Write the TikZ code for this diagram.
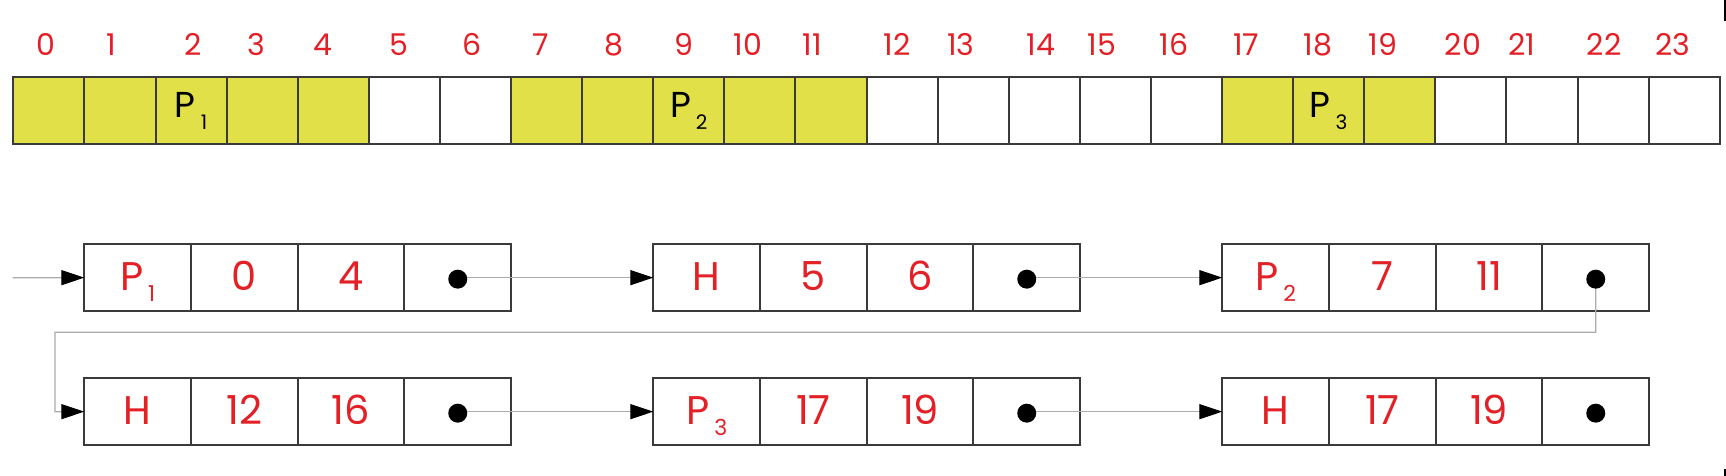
\documentclass[tikz,border=0pt]{standalone}
\usepackage{fontspec}
\setmainfont{Poppins}
\usetikzlibrary{arrows.meta}
\definecolor{cellyellow}{RGB}{226,224,72}
\definecolor{txtred}{RGB}{226,32,38}
\definecolor{bordergray}{RGB}{58,58,58}
\definecolor{linkgray}{RGB}{172,172,172}
\newcommand\psub[3]{P\kern5pt\raisebox{-#3pt}{\fontsize{#2}{#2}\selectfont #1}}
\begin{document}
\begin{tikzpicture}[x=1pt,y=-1pt,
  mem/.style={draw=bordergray, line width=2pt, minimum width=71.1pt, minimum height=66.7pt,
    inner sep=0pt, outer sep=0pt, anchor=north west},
  used/.style={fill=cellyellow},
  idx/.style={text=txtred, font=\fontsize{30}{30}\selectfont, inner sep=0pt},
  ptop/.style={text=black, font=\fontsize{36}{36}\selectfont, inner sep=0pt, text height=20pt, text depth=6.8pt},
  fld/.style={draw=bordergray, line width=2pt, minimum width=106.7pt, minimum height=66.7pt,
    inner sep=0pt, outer sep=0pt, anchor=north west, text=txtred, font=\fontsize{40}{40}\selectfont,
    text height=30pt, text depth=3.6pt},
  ptr/.style={circle, fill=black, minimum size=19pt, inner sep=0pt},
  link/.style={draw=linkgray, line width=1.3pt, -{Triangle[length=23pt,width=15pt,black]}},
]
\fill[white] (0,0) rectangle (1726,476);
\useasboundingbox (0,0) rectangle (1726,476);

% memory row
\foreach \i in {0,1,2,3,4,7,8,9,10,11,17,18,19}
  \node[mem,used] (c\i) at ({13.3+71.1*\i},77.3) {};
\foreach \i in {5,6,12,13,14,15,16,20,21,22,23}
  \node[mem] (c\i) at ({13.3+71.1*\i},77.3) {};

% indices
\foreach \i/\x in {0/45.7,1/111.7,2/193,3/256,4/323,5/399,6/472,7/541,8/614,9/684,10/748,11/812,
                   12/897,13/961,14/1041,15/1102,16/1174,17/1246,18/1318,19/1383,20/1463,21/1522,22/1604,23/1673}
  \node[idx] (n\i) at (\x,44.5) {\i};

% process labels in memory
\node[ptop] (mp1) at (c2.center) {\psub{1}{20}{12}};
\node[ptop] (mp2) at (c9.center) {\psub{2}{20}{12}};
\node[ptop] (mp3) at (c18.center) {\psub{3}{20}{12}};

% list nodes
\foreach \nm/\bx/\by/\a/\b/\c in {A/84.3/244.3/{\psub{1}{22}{11}}/0/4,
                                  B/653.3/244.3/H/5/6,
                                  C/1222.3/244.3/{\psub{2}{22}{11}}/7/11,
                                  D/84.3/378.3/H/12/16,
                                  E/653.3/378.3/{\psub{3}{22}{11}}/17/19,
                                  F/1222.3/378.3/H/17/19} {
  \node[fld] (\nm1) at (\bx,\by) {\a};
  \node[fld] (\nm2) at ({\bx+106.7},\by) {\b};
  \node[fld] (\nm3) at ({\bx+213.4},\by) {\c};
  \node[fld] (\nm4) at ({\bx+320.1},\by) {};
}

% connectors
\coordinate (start) at (12.7,277.7);
\coordinate (turnR) at (1595.8,332.3);
\coordinate (turnL) at (55,332.3);
\draw[link] (start) -- (A1.west);
\draw[link] (A4.center) -- (B1.west);
\draw[link] (B4.center) -- (C1.west);
\draw[link] (C4.center) -- (turnR) -- (turnL) |- (D1.west);
\draw[link] (D4.center) -- (E1.west);
\draw[link] (E4.center) -- (F1.west);

% pointer dots
\foreach \nm in {A,B,C,D,E,F}
  \node[ptr] (d\nm) at ([yshift=-1.5pt]\nm4.center) {};

% edge marks
\coordinate (mk1) at (1725,0);
\coordinate (mk2) at (1725,21);
\coordinate (mk3) at (1725,469);
\coordinate (mk4) at (1725,476);
\draw[line width=1.5pt] (mk1) -- (mk2);
\draw[line width=1.5pt] (mk3) -- (mk4);
\end{tikzpicture}
\end{document}
